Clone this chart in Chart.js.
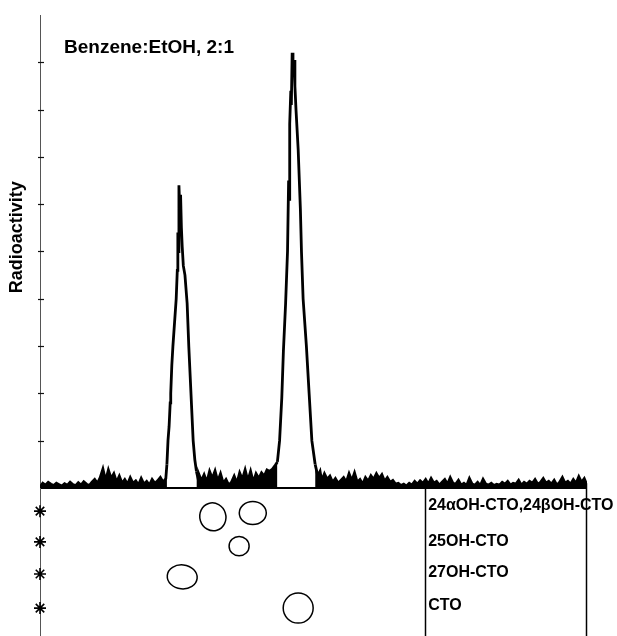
<!DOCTYPE html>
<html><head><meta charset="utf-8">
<script src="https://cdn.jsdelivr.net/npm/chart.js@4.4.1/dist/chart.umd.min.js"></script>
<style>html,body{margin:0;padding:0;background:#fff;}#wrap{width:617px;height:636px;position:relative;}</style>
</head><body><div id="wrap"><canvas id="c"></canvas></div>
<script>
// Scan of the TLC plate: distance from origin (% of plate) vs radioactivity (arbitrary units)
const traceX = [
  0,0.5,1,1.5,2,2.5,3,3.5,4,4.5,5,5.5,6,6.5,7,7.5,8,8.5,9,9.5,10,10.5,11,11.5,12,12.5,13,13.5,14,14.5,15,15.5,16,16.5,17,17.5,18,18.5,19,19.5,20,20.5,21,21.5,22,22.5,
  23.0,23.2,23.4,23.6,23.8,23.9,24.1,24.3,24.6,24.9,25.1,25.2,25.3,25.4,25.55,25.7,25.85,26.0,26.2,26.5,26.9,27.2,27.4,27.6,27.8,28.0,28.3,28.6,28.9,
  29.0,29.5,30,30.5,31,31.5,32,32.5,33,33.5,34,34.5,35,35.5,36,36.5,37,37.5,38,38.5,39,39.5,40,40.5,41,41.5,42,
  42.5,43.0,43.4,43.8,44.2,44.5,44.9,45.25,45.45,45.6,45.65,45.85,45.95,46.1,46.25,46.45,46.6,46.8,47.2,47.6,47.8,48.1,48.7,49.2,49.7,50.3,50.8,51.2,
  51.5,52,52.5,53,53.5,54,54.5,55,55.5,56,56.5,57,57.5,58,58.5,59,59.5,60,60.5,61,61.5,62,62.5,63,63.5,64,64.5,65,65.5,66,66.5,67,67.5,68,68.5,69,69.5,70,70.5,71,71.5,72,72.5,73,73.5,74,74.5,75,75.5,76,76.5,77,77.5,78,78.5,79,79.5,80,80.5,81,81.5,82,82.5,83,83.5,84,84.5,85,85.5,86,86.5,87,87.5,88,88.5,89,89.5,90,90.5,91,91.5,92,92.5,93,93.5,94,94.5,95,95.5,96,96.5,97,97.5,98,98.5,99,99.5,100
];
const traceY = [
  0.02,0.10,0.06,0.12,0.08,0.05,0.10,0.07,0.04,0.09,0.06,0.12,0.07,0.05,0.11,0.06,0.13,0.08,0.05,0.12,0.18,0.10,0.22,0.40,0.15,0.38,0.20,0.30,0.12,0.25,0.10,0.18,0.08,0.22,0.10,0.15,0.06,0.20,0.08,0.14,0.06,0.18,0.10,0.15,0.22,0.12,
  0.20,0.50,1.00,1.30,1.80,2.00,2.60,3.00,3.50,4.00,4.60,5.40,5.00,6.40,5.90,6.20,5.50,5.10,4.70,4.50,3.90,3.00,2.50,2.00,1.50,1.00,0.60,0.35,0.20,
  0.30,0.15,0.28,0.12,0.35,0.20,0.36,0.14,0.30,0.10,0.18,0.06,0.12,0.25,0.10,0.32,0.18,0.38,0.15,0.35,0.12,0.30,0.20,0.32,0.25,0.38,0.35,
  0.40,0.48,0.55,1.00,1.90,2.90,3.90,5.00,6.50,6.10,7.70,8.40,8.10,9.20,8.70,9.05,8.50,8.00,7.15,5.90,5.00,4.00,3.00,2.00,1.00,0.50,0.25,0.35,
  0.15,0.30,0.18,0.25,0.12,0.20,0.10,0.16,0.22,0.12,0.30,0.15,0.32,0.12,0.18,0.08,0.22,0.14,0.26,0.18,0.30,0.20,0.28,0.14,0.22,0.12,0.16,0.08,0.10,0.05,0.08,0.04,0.10,0.06,0.14,0.08,0.15,0.10,0.18,0.08,0.20,0.10,0.14,0.06,0.12,0.18,0.08,0.22,0.10,0.08,0.16,0.06,0.10,0.05,0.20,0.08,0.06,0.12,0.05,0.18,0.08,0.06,0.10,0.05,0.08,0.06,0.12,0.08,0.14,0.06,0.10,0.08,0.16,0.06,0.12,0.08,0.14,0.10,0.18,0.08,0.12,0.20,0.10,0.14,0.08,0.16,0.06,0.12,0.22,0.10,0.14,0.08,0.18,0.10,0.24,0.12,0.20,0.06
];
const yTicks = [0,1,2,3,4,5,6,7,8,9];

// TLC plate below the scan
const originX = 0;
const laneRows = [-0.49,-1.14,-1.82,-2.54];
const laneLabels = ['24αOH-CTO,24βOH-CTO','25OH-CTO','27OH-CTO','CTO'];
const labelRows = [-0.38,-1.14,-1.78,-2.49];
const spotX  = [31.6, 38.9, 36.4, 26.0, 47.2];
const spotY  = [-0.61,-0.53,-1.23,-1.88,-2.54];
const spotRx = [2.38, 2.47, 1.83, 2.74, 2.74];
const spotRy = [0.296,0.243,0.205,0.254,0.317];
const spotTilt = [-0.3, 0, 0, 0.1, 0];
const dividerX = 70.6;
const plateEndX = 100;

const chartTitle = 'Benzene:EtOH, 2:1';
const yTitle = 'Radioactivity';

const FONT = '"Liberation Sans", Arial, Helvetica, sans-serif';

const overlay = {
  id: 'overlay',
  afterDatasetsDraw(chart) {
    const {ctx, chartArea, scales: {x, y}} = chart;
    ctx.save();
    // inner tick marks on the y axis
    ctx.strokeStyle = '#111';
    ctx.lineWidth = 1.2;
    yTicks.forEach(v => {
      if (v === 0) return;
      const py = Math.round(y.getPixelForValue(v)) + 0.5;
      ctx.beginPath();
      ctx.moveTo(chartArea.left - 2, py);
      ctx.lineTo(chartArea.left + 4, py);
      ctx.stroke();
    });
    // plate divider lines
    ctx.strokeStyle = '#000';
    ctx.lineWidth = 1.5;
    [[dividerX, 0], [plateEndX, 0.1]].forEach(([vx, top]) => {
      const px = Math.round(x.getPixelForValue(vx)) - 0.5;
      ctx.beginPath();
      ctx.moveTo(px, y.getPixelForValue(top));
      ctx.lineTo(px, chartArea.bottom);
      ctx.stroke();
    });
    // spots
    ctx.lineWidth = 1.5;
    spotX.forEach((cx, i) => {
      const px = x.getPixelForValue(cx), py = y.getPixelForValue(spotY[i]);
      const rx = Math.abs(x.getPixelForValue(cx + spotRx[i]) - px);
      const ry = Math.abs(y.getPixelForValue(spotY[i] + spotRy[i]) - py);
      ctx.beginPath();
      ctx.ellipse(px, py, rx, ry, spotTilt[i], 0, Math.PI * 2);
      ctx.stroke();
    });
    // lane labels
    ctx.fillStyle = '#000';
    ctx.font = 'bold 16px ' + FONT;
    ctx.textAlign = 'left';
    ctx.textBaseline = 'middle';
    laneLabels.forEach((t, i) => {
      ctx.fillText(t, x.getPixelForValue(dividerX) + 2, y.getPixelForValue(labelRows[i]));
    });
    // title inside plot
    ctx.font = 'bold 19px ' + FONT;
    ctx.fillText(chartTitle, chartArea.left + 24, y.getPixelForValue(9.3));
    // y title
    ctx.translate(17, y.getPixelForValue(5.3));
    ctx.rotate(-Math.PI / 2);
    ctx.textAlign = 'center';
    ctx.font = 'bold 18px ' + FONT;
    ctx.fillText(yTitle, 0, 0);
    ctx.restore();
  }
};

const NOISE_LEVEL = 0.6;
new Chart(document.getElementById('c'), {
  data: {
    datasets: [
      {
        type: 'line',
        data: traceX.map((v, i) => ({x: v, y: traceY[i]})),
        borderColor: '#000',
        borderWidth: 2.8,
        pointRadius: 0,
        tension: 0,
        fill: 'origin',
        backgroundColor: 'rgba(0,0,0,0)',
        segment: {
          backgroundColor: c => (c.p0.parsed.y < NOISE_LEVEL && c.p1.parsed.y < NOISE_LEVEL) ? '#000' : 'rgba(0,0,0,0)'
        }
      },
      {
        type: 'scatter',
        data: laneRows.map(v => ({x: originX, y: v})),
        pointStyle: 'star',
        pointRadius: 6,
        borderColor: '#000',
        backgroundColor: '#000',
        borderWidth: 1.6,
        clip: false
      }
    ]
  },
  options: {
    responsive: true,
    maintainAspectRatio: false,
    animation: false,
    events: [],
    layout: {autoPadding: false, padding: {top: 15, right: 30, left: 0, bottom: 0}},
    plugins: {legend: {display: false}, tooltip: {enabled: false}, title: {display: false}},
    scales: {
      x: {type: 'linear', min: 0, max: 100, display: false},
      y: {
        type: 'linear', min: -3.13, max: 10,
        afterBuildTicks: s => { s.ticks = yTicks.map(v => ({value: v})); },
        afterFit: s => { s.width = 40; },
        ticks: {display: false},
        grid: {
          drawTicks: false,
          color: c => (c.tick && c.tick.value === 0) ? '#000' : 'rgba(0,0,0,0)',
          lineWidth: c => (c.tick && c.tick.value === 0) ? 2 : 0
        },
        border: {display: true, color: '#555', width: 1}
      }
    }
  },
  plugins: [overlay]
});
</script>
</body></html>
